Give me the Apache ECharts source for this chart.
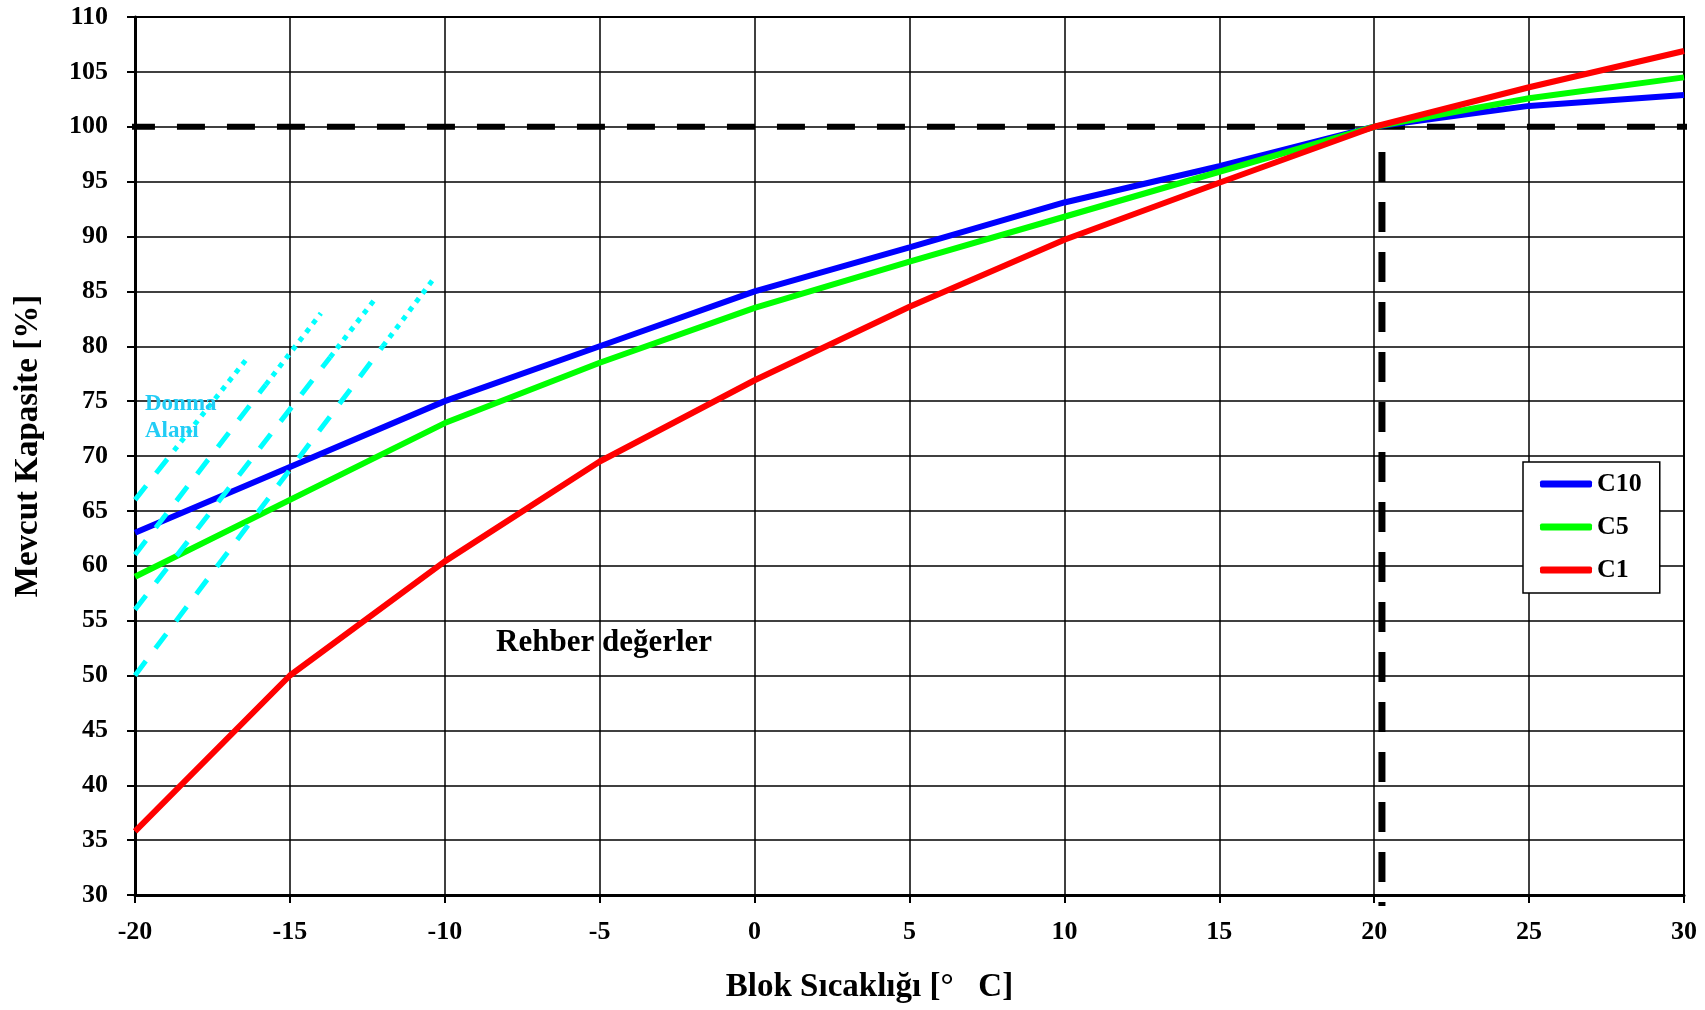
<!DOCTYPE html>
<html>
<head>
<meta charset="utf-8">
<script src="https://cdn.jsdelivr.net/npm/echarts@6/dist/echarts.min.js"></script>
<style>html,body{margin:0;padding:0;background:#fff}#c{width:1705px;height:1010px}</style>
</head>
<body>
<div id="c"></div>
<script>
// X values (block temperature, °C)
const temps = [-20, -15, -10, -5, 0, 5, 10, 15, 20, 25, 30];
// Available capacity [%]
const c10 = [63, 69, 75, 80, 85, 89, 93.1, 96.4, 100, 101.9, 102.9];
const c5  = [59, 66, 73, 78.5, 83.5, 87.7, 91.8, 95.9, 100, 102.6, 104.5];
const c1  = [35.8, 50, 60.4, 69.5, 76.9, 83.6, 89.7, 94.9, 100, 103.6, 106.9];
const seriesNames = ['C10', 'C5', 'C1'];
const seriesColors = ['#0000ff', '#00ff00', '#ff0000'];
// Freezing-zone guide lines: start, change from dashed to dotted, end
const frostStart = [[-20, 66], [-20, 61], [-20, 56], [-20, 50]];
const frostBreak = [[-18.74, 70.5], [-15.78, 76.5], [-13.7, 79], [-12, 80]];
const frostEnd   = [[-16.35, 79], [-14, 83], [-12.2, 84.5], [-10.4, 86]];
// Reference lines
const refH = [[-20.26, 100], [30.7, 100]];
const refV = [[20.25, 97.7], [20.25, 29]];
const xTicks = { min: -20, max: 30, step: 5 };
const yTicks = { min: 30, max: 110, step: 5 };

const FONT = '"Liberation Serif", "DejaVu Serif", serif';
const chart = echarts.init(document.getElementById('c'), null, { renderer: 'canvas' });

const series = [];
series.push({
  type: 'line', name: 'refH', data: refH, symbol: 'none', clip: false, silent: true,
  lineStyle: { color: '#000', width: 6, type: [28, 22], cap: 'butt' }, z: 2
});
series.push({
  type: 'line', name: 'refV', data: refV, symbol: 'none', clip: false, silent: true,
  lineStyle: { color: '#000', width: 7, type: [30, 20], cap: 'butt' }, z: 2
});
const dataSets = [c10, c5, c1];
seriesNames.forEach((n, i) => {
  series.push({
    type: 'line', name: n, symbol: 'none',
    data: temps.map((t, j) => [t, dataSets[i][j]]),
    lineStyle: { color: seriesColors[i], width: 6 },
    itemStyle: { color: seriesColors[i] }, z: 3 + i
  });
});
frostStart.forEach((s, i) => {
  series.push({
    type: 'line', name: 'fd' + i, symbol: 'none', silent: true,
    data: [s, frostBreak[i]],
    lineStyle: { color: '#00ffff', width: 5, type: [18, 16], cap: 'butt' }, z: 8
  });
  series.push({
    type: 'line', name: 'fp' + i, symbol: 'none', silent: true,
    data: [frostBreak[i], frostEnd[i]],
    lineStyle: { color: '#00ffff', width: 5, type: [5, 6], cap: 'butt' }, z: 8
  });
});

chart.setOption({
  animation: false,
  backgroundColor: '#fff',
  grid: { left: 135, right: 21, top: 17, bottom: 115, show: true, borderColor: '#000', borderWidth: 2 },
  legend: {
    data: seriesNames,
    orient: 'vertical',
    left: 1523, top: 462,
    padding: [9, 18, 10, 17],
    itemGap: 17,
    itemWidth: 52, itemHeight: 7,
    icon: 'roundRect',
    backgroundColor: '#fff',
    borderColor: '#000', borderWidth: 1.5,
    textStyle: { fontFamily: FONT, fontWeight: 'bold', fontSize: 26, color: '#000', lineHeight: 25 }
  },
  xAxis: {
    type: 'value', min: xTicks.min, max: xTicks.max, interval: xTicks.step,
    name: 'Blok Sıcaklığı [°   C]', nameLocation: 'middle', nameGap: 76,
    nameTextStyle: { fontFamily: FONT, fontWeight: 'bold', fontSize: 33, color: '#000', padding: [0, 80, 0, 0] },
    axisLine: { show: true, onZero: false, lineStyle: { color: '#000', width: 3 } },
    axisTick: { show: true, inside: false, length: 8, lineStyle: { color: '#000', width: 2 } },
    axisLabel: { fontFamily: FONT, fontWeight: 'bold', fontSize: 26, color: '#000', margin: 24 },
    splitLine: { show: true, lineStyle: { color: '#000', width: 1.5 } }
  },
  yAxis: {
    type: 'value', min: yTicks.min, max: yTicks.max, interval: yTicks.step,
    name: 'Mevcut Kapasite [%]', nameLocation: 'middle', nameGap: 90, nameRotate: 90,
    nameTextStyle: { fontFamily: FONT, fontWeight: 'bold', fontSize: 33, color: '#000', padding: [0, 0, 0, 20] },
    axisLine: { show: true, onZero: false, lineStyle: { color: '#000', width: 3 } },
    axisTick: { show: true, inside: false, length: 8, lineStyle: { color: '#000', width: 2 } },
    axisLabel: { fontFamily: FONT, fontWeight: 'bold', fontSize: 26, color: '#000', margin: 27 },
    splitLine: { show: true, lineStyle: { color: '#000', width: 1.5 } }
  },
  graphic: [
    { type: 'text', left: 496, top: 627, z: 100,
      style: { text: 'Rehber değerler', fontFamily: FONT, fontWeight: 'bold', fontSize: 31, fill: '#000' } },
    { type: 'text', left: 145, top: 391, z: 100,
      style: { text: 'Donma\nAlanı', fontFamily: FONT, fontWeight: 'bold', fontSize: 23, lineHeight: 27, fill: '#22ccf5' } }
  ],
  series: series
});
</script>
</body>
</html>
